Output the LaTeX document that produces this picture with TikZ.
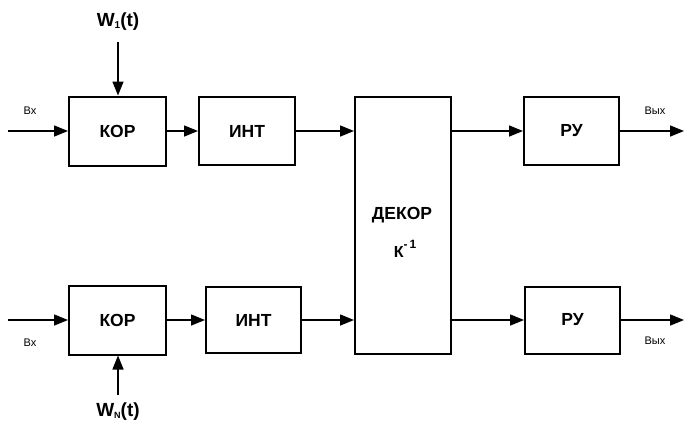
\documentclass[tikz,border=0pt]{standalone}
\usepackage{fontspec}
\setmainfont{Liberation Sans}
\usetikzlibrary{arrows.meta}
\begin{document}
\begin{tikzpicture}[x=1pt,y=-1pt,
  blk/.style={draw,line width=2pt,inner sep=0pt,font=\bfseries\fontsize{17.5}{20}\selectfont},
  arr/.style={line width=1.5pt,-{Triangle[length=14pt,width=11pt]}},
  sig/.style={font=\fontsize{11}{13}\selectfont},
  wlab/.style={font=\bfseries\fontsize{19}{22}\selectfont}]
\useasboundingbox (0,0) rectangle (684,424);
\fill[white] (0,0) rectangle (684,424);
% upper channel
\node[blk,minimum width=97pt,minimum height=69pt] (kor1) at (117.5,131) {КОР};
\node[blk,minimum width=96pt,minimum height=68pt] (int1) at (247,131) {ИНТ};
\node[blk,minimum width=95pt,minimum height=68pt] (ru1) at (571.5,131) {РУ};
% lower channel
\node[blk,minimum width=97pt,minimum height=69pt] (kor2) at (117.5,320) {КОР};
\node[blk,minimum width=95pt,minimum height=66pt] (int2) at (253.5,320) {ИНТ};
\node[blk,minimum width=95pt,minimum height=67pt] (ru2) at (572.5,320) {РУ};
% decorrelator
\node[blk,minimum width=96pt,minimum height=257pt] (dek) at (403,225.5) {};
\node[font=\bfseries\fontsize{17.5}{20}\selectfont] (dekt) at (402,215) {ДЕКОР};
\node[font=\bfseries\fontsize{16}{18}\selectfont] (kinv) at (405,249) {К\raisebox{0.55em}{\fontsize{12}{14}\selectfont -\,1}};
% free ends
\coordinate (in1) at (8,131);
\coordinate (in2) at (8,320);
\coordinate (out1) at (684,131);
\coordinate (out2) at (684,320);
\coordinate (w1) at (118,42);
\coordinate (w2) at (118,395);
% connectors
\draw[arr] (in1) -- (kor1.west);
\draw[arr] (in2) -- (kor2.west);
\draw[arr] (kor1.east) -- (int1.west);
\draw[arr] (kor2.east) -- (int2.west);
\draw[arr] (int1.east) -- (int1.east -| dek.west);
\draw[arr] (int2.east) -- (int2.east -| dek.west);
\draw[arr] (dek.east |- ru1.west) -- (ru1.west);
\draw[arr] (dek.east |- ru2.west) -- (ru2.west);
\draw[arr] (ru1.east) -- (out1);
\draw[arr] (ru2.east) -- (out2);
\draw[arr] (w1) -- (w1 |- kor1.north);
\draw[arr] (w2) -- (w2 |- kor2.south);
% labels
\node[wlab] (w1t) at (118,22) {W\raisebox{-0.1em}{\fontsize{10}{11}\selectfont 1}(t)};
\node[wlab] (w2t) at (118,412) {W\raisebox{-0.1em}{\fontsize{9}{10}\selectfont N}(t)};
\node[sig] (vx1) at (30,111) {Вх};
\node[sig] (vx2) at (30,343) {Вх};
\node[sig] (vyx1) at (655,111) {Вых};
\node[sig] (vyx2) at (655,341) {Вых};
\end{tikzpicture}
\end{document}
